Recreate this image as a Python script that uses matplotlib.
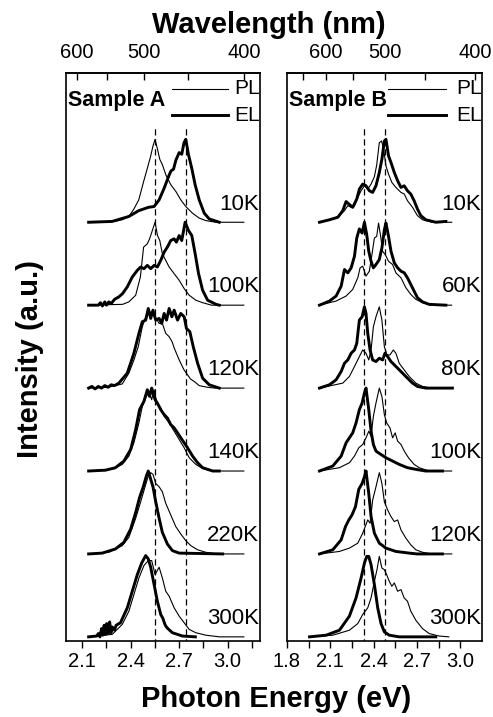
import matplotlib
matplotlib.use("Agg")
import matplotlib.pyplot as plt
import numpy as np

plt.rcParams['font.family'] = ['Liberation Sans', 'DejaVu Sans']

### Data (photon energy eV, normalised intensity) ###
temps_A = ['300K', '220K', '140K', '120K', '100K', '10K']
temps_B = ['300K', '120K', '100K', '80K', '60K', '10K']

# Sample A
A10_PL = [(2.14, 0), (2.30, 0.01), (2.348, 0.03), (2.389, 0.07), (2.42, 0.16), (2.45, 0.27), (2.48, 0.49),
          (2.503, 0.65), (2.524, 0.80), (2.538, 0.92), (2.551, 1.0), (2.566, 0.88), (2.58, 0.76), (2.597, 0.69),
          (2.618, 0.57), (2.649, 0.45), (2.68, 0.37), (2.71, 0.27), (2.741, 0.19), (2.782, 0.11), (2.824, 0.05),
          (2.865, 0.02), (2.927, 0), (3.10, 0)]
A10_EL = [(2.14, 0), (2.286, 0.01), (2.389, 0.07), (2.45, 0.14), (2.51, 0.18), (2.545, 0.19), (2.576, 0.27),
          (2.607, 0.41), (2.638, 0.57), (2.65, 0.62), (2.665, 0.64), (2.68, 0.75), (2.70, 0.84), (2.716, 0.82),
          (2.73, 0.96), (2.741, 1.0), (2.757, 0.82), (2.778, 0.65), (2.799, 0.45), (2.824, 0.27), (2.855, 0.11),
          (2.886, 0.04), (2.948, 0)]
A100_PL = [(2.14, 0), (2.35, 0.01), (2.389, 0.04), (2.431, 0.12), (2.46, 0.34), (2.48, 0.70), (2.503, 0.74),
           (2.517, 0.80), (2.534, 0.90), (2.551, 1.0), (2.566, 0.84), (2.58, 0.78), (2.596, 0.62), (2.617, 0.54),
           (2.638, 0.46), (2.669, 0.38), (2.70, 0.30), (2.731, 0.20), (2.762, 0.12), (2.803, 0.06), (2.845, 0.03),
           (2.90, 0), (3.10, 0)]
A100_EL = [(2.14, 0), (2.20, 0.0), (2.213, 0.03), (2.225, -0.01), (2.24, 0.04), (2.25, 0.0), (2.265, 0.04),
           (2.28, 0.02), (2.30, 0.07), (2.327, 0.10), (2.35, 0.14), (2.379, 0.22), (2.41, 0.34), (2.441, 0.42),
           (2.462, 0.46), (2.482, 0.44), (2.503, 0.48), (2.524, 0.44), (2.545, 0.48), (2.565, 0.46),
           (2.586, 0.54), (2.607, 0.64), (2.627, 0.70), (2.648, 0.78), (2.669, 0.80), (2.683, 0.76),
           (2.70, 0.84), (2.716, 0.78), (2.737, 1.0), (2.758, 0.90), (2.778, 0.84), (2.799, 0.62), (2.82, 0.38),
           (2.845, 0.18), (2.876, 0.06), (2.928, 0.01), (2.948, 0)]
A120_PL = [(2.14, 0), (2.26, 0.01), (2.348, 0.05), (2.389, 0.18), (2.42, 0.34), (2.447, 0.50), (2.472, 0.74),
           (2.493, 0.86), (2.509, 0.94), (2.53, 0.90), (2.551, 0.86), (2.576, 0.78), (2.596, 0.78),
           (2.617, 0.66), (2.638, 0.62), (2.656, 0.56), (2.67, 0.48), (2.70, 0.34), (2.73, 0.22), (2.77, 0.11),
           (2.80, 0.07), (2.824, 0.03), (2.874, 0.01), (2.92, 0), (3.10, 0)]
A120_EL = [(2.14, 0), (2.16, 0.02), (2.18, -0.01), (2.20, 0.02), (2.22, 0.0), (2.24, 0.03), (2.26, 0.01),
           (2.28, 0.04), (2.30, 0.03), (2.327, 0.06), (2.379, 0.18), (2.42, 0.42), (2.451, 0.66), (2.472, 0.80),
           (2.493, 0.82), (2.509, 0.96), (2.524, 0.84), (2.538, 0.94), (2.555, 0.82), (2.576, 0.84),
           (2.592, 0.78), (2.607, 0.90), (2.622, 0.82), (2.638, 0.96), (2.655, 0.86), (2.669, 0.94),
           (2.69, 0.82), (2.71, 0.90), (2.731, 0.86), (2.745, 0.72), (2.766, 0.68), (2.787, 0.50), (2.814, 0.30),
           (2.845, 0.12), (2.886, 0.04), (2.948, 0)]
A140_PL = [(2.14, 0), (2.286, 0.02), (2.348, 0.08), (2.389, 0.18), (2.42, 0.34), (2.451, 0.58), (2.472, 0.78),
           (2.493, 0.88), (2.513, 0.96), (2.53, 0.86), (2.545, 0.98), (2.565, 0.80), (2.586, 0.76),
           (2.607, 0.66), (2.638, 0.58), (2.669, 0.48), (2.70, 0.38), (2.731, 0.28), (2.762, 0.16),
           (2.803, 0.08), (2.845, 0.03), (2.907, 0), (3.10, 0)]
A140_EL = [(2.14, 0), (2.244, 0.01), (2.306, 0.04), (2.358, 0.12), (2.40, 0.26), (2.431, 0.50), (2.455, 0.74),
           (2.482, 0.84), (2.503, 0.98), (2.517, 0.90), (2.53, 1.0), (2.551, 0.86), (2.565, 0.82), (2.586, 0.74),
           (2.607, 0.68), (2.627, 0.64), (2.648, 0.56), (2.669, 0.52), (2.69, 0.46), (2.71, 0.40),
           (2.731, 0.34), (2.752, 0.28), (2.783, 0.18), (2.814, 0.10), (2.845, 0.04), (2.907, 0), (2.948, 0)]
A220_PL = [(2.14, 0), (2.265, 0.02), (2.348, 0.10), (2.389, 0.20), (2.431, 0.43), (2.462, 0.63), (2.489, 0.81),
           (2.509, 0.94), (2.524, 0.98), (2.538, 0.96), (2.555, 0.85), (2.576, 0.81), (2.596, 0.75),
           (2.617, 0.61), (2.648, 0.47), (2.679, 0.33), (2.71, 0.24), (2.741, 0.16), (2.772, 0.10),
           (2.814, 0.05), (2.865, 0.02), (2.928, 0), (3.10, 0)]
A220_EL = [(2.14, 0), (2.224, 0.01), (2.306, 0.06), (2.358, 0.14), (2.40, 0.30), (2.431, 0.50), (2.455, 0.68),
           (2.478, 0.81), (2.497, 0.94), (2.509, 1.0), (2.524, 0.90), (2.538, 0.81), (2.555, 0.63),
           (2.576, 0.43), (2.596, 0.26), (2.627, 0.12), (2.658, 0.04), (2.70, 0.01), (2.969, 0)]
A300_PL = [(2.14, 0), (2.286, 0.03), (2.348, 0.15), (2.389, 0.31), (2.42, 0.51), (2.451, 0.71), (2.482, 0.86),
           (2.509, 0.92), (2.53, 0.92), (2.551, 0.75), (2.576, 0.84), (2.596, 0.71), (2.617, 0.55),
           (2.638, 0.49), (2.669, 0.35), (2.70, 0.25), (2.731, 0.17), (2.762, 0.09), (2.803, 0.05),
           (2.865, 0.02), (2.95, 0), (3.10, 0)]
A300_EL = [(2.14, 0), (2.19, 0.01), (2.20, 0.04), (2.21, 0.0), (2.22, 0.10), (2.228, 0.02), (2.236, 0.14),
           (2.244, 0.03), (2.252, 0.16), (2.26, 0.04), (2.27, 0.18), (2.278, 0.05), (2.286, 0.12), (2.30, 0.08),
           (2.31, 0.14), (2.337, 0.17), (2.379, 0.35), (2.41, 0.55), (2.441, 0.75), (2.468, 0.89),
           (2.493, 0.98), (2.509, 0.94), (2.524, 0.84), (2.545, 0.63), (2.565, 0.43), (2.586, 0.27),
           (2.60, 0.22), (2.61, 0.16), (2.617, 0.13), (2.63, 0.10), (2.658, 0.05), (2.72, 0.01), (2.80, 0)]

# Sample B
B10_PL = [(2.025, 0), (2.117, 0.04), (2.163, 0.08), (2.198, 0.14), (2.221, 0.20), (2.244, 0.18), (2.267, 0.20),
          (2.29, 0.30), (2.313, 0.38), (2.336, 0.44), (2.359, 0.40), (2.382, 0.46), (2.405, 0.55),
          (2.421, 0.69), (2.439, 0.96), (2.455, 0.98), (2.469, 0.88), (2.485, 0.68), (2.503, 0.58),
          (2.526, 0.48), (2.554, 0.42), (2.589, 0.36), (2.612, 0.34), (2.634, 0.26), (2.669, 0.18),
          (2.703, 0.08), (2.738, 0.03), (2.807, 0), (2.94, 0)]
B10_EL = [(2.025, 0), (2.094, 0.03), (2.152, 0.06), (2.186, 0.14), (2.209, 0.25), (2.228, 0.22), (2.255, 0.18),
          (2.283, 0.28), (2.301, 0.40), (2.324, 0.46), (2.347, 0.44), (2.37, 0.38), (2.393, 0.36),
          (2.416, 0.44), (2.439, 0.60), (2.457, 0.76), (2.474, 0.98), (2.485, 1.0), (2.503, 0.80), (2.52, 0.72),
          (2.543, 0.60), (2.566, 0.50), (2.589, 0.42), (2.611, 0.44), (2.634, 0.38), (2.657, 0.34),
          (2.68, 0.26), (2.703, 0.16), (2.726, 0.08), (2.761, 0.03), (2.83, 0), (2.90, 0.01)]
B60_PL = [(2.025, 0), (2.14, 0.05), (2.209, 0.11), (2.255, 0.19), (2.29, 0.33), (2.306, 0.45), (2.324, 0.47),
          (2.347, 0.35), (2.37, 0.41), (2.388, 0.61), (2.405, 0.81), (2.421, 0.83), (2.434, 0.99), (2.45, 0.81),
          (2.462, 0.65), (2.48, 0.61), (2.503, 0.53), (2.531, 0.49), (2.554, 0.39), (2.589, 0.33),
          (2.623, 0.21), (2.657, 0.13), (2.692, 0.07), (2.738, 0.03), (2.80, 0), (2.94, 0)]
B60_EL = [(2.025, 0), (2.094, 0.05), (2.14, 0.11), (2.175, 0.23), (2.198, 0.43), (2.221, 0.39), (2.244, 0.45),
          (2.267, 0.59), (2.283, 0.81), (2.301, 0.92), (2.32, 0.87), (2.336, 1.0), (2.352, 0.85), (2.366, 0.65),
          (2.382, 0.53), (2.398, 0.45), (2.416, 0.49), (2.439, 0.55), (2.457, 0.69), (2.474, 0.91),
          (2.485, 0.99), (2.503, 0.83), (2.52, 0.65), (2.543, 0.51), (2.566, 0.45), (2.589, 0.41),
          (2.612, 0.39), (2.634, 0.33), (2.657, 0.25), (2.68, 0.17), (2.703, 0.09), (2.738, 0.04),
          (2.784, 0.01), (2.90, 0)]
B80_PL = [(2.025, 0), (2.186, 0.06), (2.232, 0.14), (2.267, 0.26), (2.301, 0.38), (2.324, 0.46), (2.347, 0.42),
          (2.366, 0.34), (2.382, 0.46), (2.398, 0.74), (2.416, 0.86), (2.439, 0.98), (2.457, 0.82),
          (2.474, 0.50), (2.492, 0.40), (2.513, 0.40), (2.536, 0.46), (2.554, 0.42), (2.577, 0.30),
          (2.611, 0.22), (2.646, 0.14), (2.692, 0.06), (2.738, 0.02), (2.80, 0), (2.90, 0)]
B80_EL = [(2.025, 0), (2.094, 0.04), (2.14, 0.10), (2.175, 0.20), (2.198, 0.30), (2.221, 0.34), (2.244, 0.42),
          (2.267, 0.46), (2.283, 0.54), (2.301, 0.82), (2.32, 0.86), (2.336, 0.98), (2.347, 0.90),
          (2.359, 0.66), (2.375, 0.46), (2.393, 0.34), (2.416, 0.32), (2.439, 0.36), (2.462, 0.34),
          (2.478, 0.42), (2.497, 0.38), (2.52, 0.32), (2.543, 0.28), (2.566, 0.24), (2.60, 0.18),
          (2.634, 0.12), (2.669, 0.06), (2.703, 0.02), (2.76, 0), (2.945, 0)]
B100_PL = [(2.025, 0), (2.163, 0.04), (2.232, 0.10), (2.267, 0.18), (2.297, 0.28), (2.324, 0.32), (2.347, 0.40),
           (2.366, 0.48), (2.382, 0.42), (2.398, 0.66), (2.416, 0.82), (2.439, 1.0), (2.457, 0.90),
           (2.474, 0.68), (2.49, 0.58), (2.513, 0.52), (2.531, 0.40), (2.549, 0.46), (2.566, 0.36),
           (2.589, 0.32), (2.612, 0.24), (2.641, 0.16), (2.68, 0.08), (2.715, 0.04), (2.784, 0), (2.94, 0)]
B100_EL = [(2.025, 0), (2.117, 0.06), (2.175, 0.18), (2.209, 0.34), (2.232, 0.40), (2.255, 0.46), (2.278, 0.58),
           (2.301, 0.74), (2.32, 0.82), (2.336, 0.94), (2.347, 1.0), (2.366, 0.74), (2.382, 0.48),
           (2.398, 0.32), (2.416, 0.24), (2.45, 0.20), (2.485, 0.16), (2.531, 0.12), (2.577, 0.08),
           (2.634, 0.04), (2.692, 0.02), (2.76, 0), (2.876, 0)]
B120_PL = [(2.025, 0), (2.163, 0.03), (2.232, 0.07), (2.29, 0.13), (2.324, 0.25), (2.359, 0.41), (2.375, 0.37),
           (2.393, 0.65), (2.416, 0.81), (2.439, 0.98), (2.457, 0.85), (2.474, 0.63), (2.497, 0.53),
           (2.52, 0.45), (2.543, 0.39), (2.566, 0.41), (2.589, 0.29), (2.623, 0.19), (2.657, 0.11),
           (2.692, 0.05), (2.738, 0.02), (2.80, 0), (2.94, 0)]
B120_EL = [(2.025, 0), (2.117, 0.05), (2.175, 0.17), (2.205, 0.33), (2.228, 0.41), (2.25, 0.47), (2.274, 0.57),
           (2.297, 0.78), (2.32, 0.85), (2.336, 0.93), (2.347, 1.0), (2.366, 0.73), (2.382, 0.45),
           (2.405, 0.25), (2.439, 0.13), (2.485, 0.07), (2.554, 0.03), (2.646, 0.01), (2.70, 0), (2.876, 0)]
B300_PL = [(1.956, 0), (2.117, 0.02), (2.232, 0.08), (2.29, 0.16), (2.324, 0.27), (2.359, 0.35), (2.382, 0.47),
           (2.405, 0.67), (2.423, 0.81), (2.439, 0.97), (2.457, 0.83), (2.474, 0.81), (2.49, 0.75),
           (2.508, 0.67), (2.526, 0.61), (2.543, 0.65), (2.566, 0.55), (2.589, 0.57), (2.611, 0.47),
           (2.634, 0.43), (2.657, 0.31), (2.692, 0.20), (2.738, 0.10), (2.784, 0.04), (2.853, 0.01), (2.92, 0)]
B300_EL = [(1.956, 0), (2.071, 0.02), (2.163, 0.08), (2.232, 0.25), (2.278, 0.47), (2.313, 0.71), (2.336, 0.89),
           (2.352, 0.97), (2.366, 0.97), (2.382, 0.87), (2.405, 0.63), (2.428, 0.35), (2.451, 0.16),
           (2.474, 0.06), (2.508, 0.02), (2.577, 0), (2.83, 0)]

pl_A = [A300_PL, A220_PL, A140_PL, A120_PL, A100_PL, A10_PL]
el_A = [A300_EL, A220_EL, A140_EL, A120_EL, A100_EL, A10_EL]
pl_B = [B300_PL, B120_PL, B100_PL, B80_PL, B60_PL, B10_PL]
el_B = [B300_EL, B120_EL, B100_EL, B80_EL, B60_EL, B10_EL]

dashes_A = [2.553, 2.741]
dashes_B = [2.331, 2.481]

### Plotting ###
fig = plt.figure(figsize=(4.93, 7.17), dpi=100)
axA = fig.add_axes([66 / 493, 76 / 717, 194 / 493, 568 / 717])
axB = fig.add_axes([287 / 493, 76 / 717, 195 / 493, 568 / 717])


def to_nm(e):
    e = np.asarray(e, dtype=float)
    return 1240.0 / np.where(e == 0, 1e-9, e)


def draw(ax, pls, els, temps, dashes, name, xlim, xticks, minor, leg_x):
    for i, (pl, el, t) in enumerate(zip(pls, els, temps)):
        pl = np.array(pl)
        el = np.array(el)
        ax.plot(pl[:, 0], pl[:, 1] + i, color='k', lw=0.8)
        ax.plot(el[:, 0], el[:, 1] + i, color='k', lw=2.1)
        ax.text(xlim[1] - 0.005 * (xlim[1] - xlim[0]), i + 0.22, t, ha='right', va='center', fontsize=16)
    for d in dashes:
        ax.plot([d, d], [-0.1, 6.14], color='k', lw=0.9, ls=(0, (5, 3)))
    ax.plot(leg_x, [6.61, 6.61], color='k', lw=0.8)
    ax.plot(leg_x, [6.29, 6.29], color='k', lw=2.1)
    ax.text(xlim[1], 6.61, 'PL', ha='right', va='center', fontsize=15)
    ax.text(xlim[1], 6.29, 'EL', ha='right', va='center', fontsize=15)
    ax.text(xlim[0] + 0.01 * (xlim[1] - xlim[0]), 6.47, name, ha='left', va='center',
            fontsize=15.5, fontweight='bold')
    ax.set_xlim(*xlim)
    ax.set_ylim(-0.05, 6.8)
    ax.set_yticks([])
    ax.set_xticks(xticks)
    ax.set_xticks(minor, minor=True)
    ax.set_xticklabels(['%.1f' % v for v in xticks])
    ax.tick_params(axis='x', which='both', direction='out', length=5, width=1, labelsize=14.5, pad=3)
    for s in ax.spines.values():
        s.set_linewidth(1.2)
    sec = ax.secondary_xaxis('top', functions=(to_nm, to_nm))
    sec.set_xticks([600, 500, 400])
    sec.set_xticks([650, 550, 450], minor=True)
    sec.set_xticklabels(['600', '500', '400'])
    sec.tick_params(axis='x', which='both', direction='in', length=5, width=1, labelsize=14.5, pad=8)
    sec.spines['top'].set_linewidth(1.2)


draw(axA, pl_A, el_A, temps_A, dashes_A, 'Sample A', (2.0, 3.2),
     [2.1, 2.4, 2.7, 3.0], [2.25, 2.55, 2.85, 3.15], [2.658, 3.0])
draw(axB, pl_B, el_B, temps_B, dashes_B, 'Sample B', (1.8, 3.15),
     [1.8, 2.1, 2.4, 2.7, 3.0], [1.95, 2.25, 2.55, 2.85], [2.497, 2.903])

fig.text(269 / 493, 1 - 25 / 717, 'Wavelength (nm)', ha='center', va='center', fontsize=21, fontweight='bold')
fig.text(276 / 493, 1 - 699 / 717, 'Photon Energy (eV)', ha='center', va='center', fontsize=21, fontweight='bold')
fig.text(30 / 493, 0.50, 'Intensity (a.u.)', ha='center', va='center', rotation=90, fontsize=21,
         fontweight='bold')

plt.savefig('out.png', dpi=100)
